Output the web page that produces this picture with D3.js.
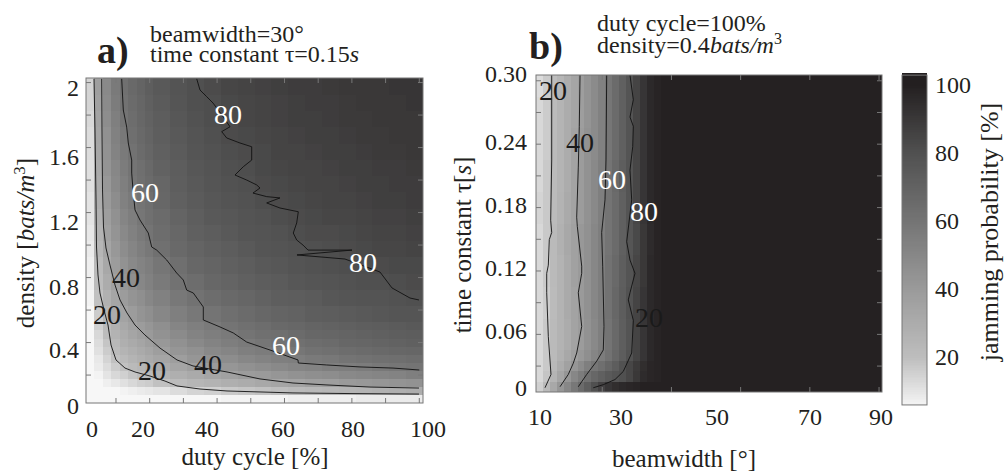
<!DOCTYPE html>
<html>
<head>
<meta charset="utf-8">
<script src="https://cdn.jsdelivr.net/npm/d3@7"></script>
<style>
  body { margin: 0; background: #fff; }
  svg text { fill: #231f20; }
</style>
</head>
<body>
<svg width="1006" height="476"></svg>
<script>
// ---------- panel a : duty cycle x density (beamwidth 30°, tau 0.15 s) ----------
// cell edges (fine cells at low duty / low density, merged cells elsewhere)
const dutyEdges = [1.25,3.75,6.25,8.75,11.25,13.75,16.25,18.75,21.25,26.25,31.25,36.25,41.25,
  46.25,51.25,56.25,61.25,66.25,71.25,76.25,81.25,86.25,91.25,96.25,101.25];
const densityEdges = [0.025,0.075,0.125,0.175,0.225,0.275,0.325,0.375,0.425,0.475,0.525,0.625,
  0.725,0.825,0.925,1.025,1.125,1.225,1.325,1.425,1.525,1.625,1.725,1.825,1.925,2.025];
// jamming probability [%], rows from low density to high density
const jamA = [
  [3,3,3,4,4,4,4,4,5,5,5,5,6,6,6,6,7,7,7,7,8,8,8,8],
  [4,4,4,5,6,7,8,9,10,12,14,15,17,18,19,20,22,23,24,25,26,27,28,29],
  [4,4,7,9,11,13,15,16,19,21,24,26,28,30,32,34,35,37,38,40,41,42,43,44],
  [4,6,10,13,15,18,20,22,25,28,31,34,36,39,40,42,44,46,47,49,50,51,52,54],
  [4,8,12,16,19,22,24,27,30,34,37,40,42,45,47,49,51,52,54,55,56,58,59,60],
  [4,9,14,19,22,25,28,31,34,38,42,45,47,50,52,54,55,57,58,60,61,62,63,64],
  [4,11,16,21,25,28,31,34,38,42,45,49,51,54,56,58,59,61,62,64,65,66,67,68],
  [4,12,18,23,28,31,34,37,41,45,49,52,55,57,59,61,62,64,65,67,68,69,70,71],
  [4,13,20,26,30,34,37,40,44,48,52,55,57,60,62,63,65,67,68,69,70,71,72,73],
  [4,15,22,27,32,36,39,42,46,51,54,57,60,62,64,66,67,69,70,71,72,73,74,75],
  [5,16,24,30,35,39,43,46,50,54,58,60,63,65,67,69,70,72,73,74,75,76,77,77],
  [6,19,27,33,39,43,46,50,53,58,61,64,66,68,70,72,73,74,76,77,78,78,79,80],
  [7,21,30,36,42,46,50,53,57,61,64,67,69,71,73,74,76,77,78,79,80,80,81,82],
  [7,22,32,39,44,49,52,55,59,63,67,69,71,73,75,76,78,79,80,81,81,82,83,83],
  [8,24,34,41,47,51,55,58,62,66,69,71,73,75,77,78,79,80,81,82,83,84,84,85],
  [9,26,36,43,49,53,57,60,64,67,71,73,75,77,78,79,81,82,82,83,84,85,85,86],
  [10,27,38,45,51,55,59,62,65,69,72,75,76,78,79,81,82,83,84,84,85,86,86,87],
  [10,29,40,47,53,57,60,63,67,71,74,76,78,79,81,82,83,84,85,85,86,87,87,88],
  [11,30,41,49,54,59,62,65,68,72,75,77,79,80,82,83,84,85,85,86,87,87,88,88],
  [11,31,43,50,56,60,63,66,70,73,76,78,80,81,83,84,85,85,86,87,87,88,88,89],
  [12,33,44,52,57,61,65,68,71,74,77,79,81,82,83,85,85,86,87,87,88,89,89,90],
  [12,34,45,53,58,63,66,69,72,75,78,80,82,83,84,85,86,87,87,88,89,89,90,90],
  [13,35,47,54,60,64,67,70,73,76,79,81,82,84,85,86,87,87,88,89,89,90,90,90],
  [14,36,48,56,61,65,68,71,74,77,80,81,83,84,85,86,87,88,88,89,90,90,90,91],
  [14,37,49,57,62,66,69,72,75,78,80,82,84,85,86,87,88,88,89,90,90,90,91,91]
];
// contour lines [duty, density]
const contA20 = [[3.62,2.02],[3.92,1.705],[4.22,1.274],[4.37,0.985],[4.81,0.813],[5.4,0.702],[6.59,0.597],
  [7.78,0.505],[8.67,0.382],[10.15,0.29],[12.82,0.24],[15.79,0.216],[20.24,0.191],[24.69,0.16],[28.25,0.13],
  [35.08,0.111],[43.09,0.099],[52.88,0.093],[62.67,0.087],[79.59,0.083],[100.06,0.08]];
const contA40 = [[5.91,2.02],[6.0,1.705],[6.15,1.336],[6.44,1.108],[7.18,0.979],[8.37,0.874],[9.86,0.751],
  [11.34,0.659],[13.42,0.579],[15.79,0.505],[18.76,0.443],[23.21,0.363],[28.25,0.29],[33.0,0.253],[38.05,0.234],
  [43.09,0.216],[52.88,0.173],[62.67,0.148],[72.76,0.136],[85.52,0.123],[100.06,0.117]];
const contA60 = [[11.84,2.02],[12.32,1.828],[13.33,1.723],[13.8,1.625],[14.81,1.52],[14.81,1.44],[15.2,1.336],
  [15.79,1.213],[17.27,1.151],[19.74,1.071],[20.75,0.985],[22.23,0.966],[25.2,0.905],[28.16,0.825],[30.12,0.782],
  [31.13,0.72],[33.09,0.702],[36.06,0.616],[36.06,0.536],[41.01,0.493],[44.96,0.456],[48.94,0.4],[55.85,0.351],
  [64.16,0.29],[64.25,0.271],[72.68,0.259],[82.56,0.247],[92.35,0.24],[100.15,0.228]];
const contA80 = [[34.1,2.02],[35.08,1.951],[37.07,1.91],[38.94,1.871],[41.61,1.797],[43.98,1.725],[41.52,1.695],
  [43.0,1.656],[46.95,1.625],[50.42,1.602],[50.42,1.52],[47.93,1.479],[45.46,1.428],[48.94,1.397],[51.9,1.367],
  [52.88,1.348],[50.8,1.317],[54.87,1.295],[58.82,1.287],[54.87,1.256],[58.82,1.225],[64.25,1.202],[63.77,1.133],
  [62.76,1.071],[63.77,1.028],[65.64,0.997],[67.13,0.966],[80.18,0.966],[63.86,0.936],[78.1,0.911],[88.49,0.831],
  [92.05,0.733],[97.39,0.671],[100.06,0.659]];
// contour labels [value, duty, density]
const labelsA = [[80,43.4,1.803],[60,18.76,1.323],[40,13.12,0.8],[20,7.48,0.573],
  [20,20.83,0.228],[40,37.45,0.265],[60,60.6,0.382],[80,83.45,0.893]];

// ---------- panel b : beamwidth x time constant (duty 100 %, density 0.4) ----------
const bwEdges = [9.18,10.82,12.45,14.08,15.71,17.35,18.98,20.61,22.24,23.88,25.51,27.14,28.78,
  30.41,32.04,33.67,35.31,36.94,38.57,90.82];
const tauEdges = [-0.0052,0.0052,0.0155,0.0259,0.0362,0.0672,0.0983,0.1293,0.1603,0.1914,0.2224,
  0.2534,0.2845,0.3052];
const jamB = [
  [15,22,32,42,50,58,65,72,80,86,91,94,96,97,98,99,99,99,99],
  [13,18,25,34,42,50,56,62,67,71,75,78,80,84,90,95,97,98,99],
  [13,17,23,30,36,42,48,54,59,63,68,73,79,84,89,94,97,98,99],
  [13,17,22,27,32,37,41,46,51,56,61,67,73,79,85,91,96,98,99],
  [13,17,22,26,30,35,39,44,49,54,60,66,72,78,85,91,96,98,99],
  [13,16,21,26,31,35,40,45,50,55,61,67,73,79,85,91,96,98,99],
  [13,17,22,26,31,36,40,45,50,55,61,66,72,78,84,90,96,98,99],
  [13,17,22,27,32,36,41,45,50,55,60,65,71,77,83,90,95,98,99],
  [14,17,21,26,31,35,39,44,49,54,60,65,71,78,84,91,96,98,99],
  [13,17,21,25,30,35,39,44,49,54,60,66,72,78,84,91,96,98,99],
  [13,16,21,25,30,35,39,44,48,53,59,65,71,78,85,91,96,98,99],
  [13,16,21,25,30,34,38,43,48,53,59,65,71,78,85,91,96,98,99],
  [12,16,20,24,29,34,38,43,48,53,59,65,71,78,85,91,96,98,99]
];
// contour lines [beamwidth, tau]
const contB20 = [[12.89,0.305],[12.89,0.222],[12.65,0.163],[12.89,0.151],[12.32,0.144],[12.09,0.119],
  [11.71,0.111],[11.71,0.092],[12.09,0.049],[12.72,0.012],[11.31,-0.001]];
const contB40 = [[19.57,0.305],[19.4,0.255],[19.16,0.215],[18.79,0.166],[18.93,0.157],[19.97,0.118],
  [19.97,0.111],[19.16,0.092],[19.97,0.059],[18.79,0.033],[17.98,0.023],[16.8,0.012],[14.85,0.0]];
const contB60 = [[25.86,0.305],[25.7,0.222],[25.46,0.183],[24.68,0.151],[24.92,0.118],[25.23,0.059],
  [25.06,0.036],[23.5,0.025],[21.14,0.012],[19.16,0.0]];
const contB80 = [[31.36,0.305],[32.14,0.281],[31.36,0.264],[32.14,0.255],[32.0,0.235],[31.36,0.212],
  [31.76,0.183],[30.58,0.142],[31.36,0.124],[32.54,0.111],[31.36,0.092],[30.96,0.085],[32.14,0.065],
  [31.76,0.033],[29.78,0.015],[27.82,0.007],[25.06,0.002],[22.7,-0.001]];
const labelsB = [[20,13.2,0.2905],[40,19.57,0.2396],[60,27.12,0.2033],[80,34.67,0.172],[20,35.85,0.0682]];

// tick labels
const aXLabels = [0,20,40,60,80,100];
const aYLabels = [0,0.4,0.8,1.2,1.6,2];
const bXLabels = [10,30,50,70,90];
const bYLabels = [0,0.06,0.12,0.18,0.24,0.30];
const cbLabels = [20,40,60,80,100];

const SERIF = "'Liberation Serif', 'Times New Roman', Tinos, 'Nimbus Roman', FreeSerif, 'DejaVu Serif', serif";

const svg = d3.select('svg');

const color = d3.scaleLinear()
  .domain([5,20,40,60,80,100])
  .range(['#f7f7f7','#bdbdbd','#9a9a9a','#747474','#505050','#231f20'])
  .clamp(true);

function panel(id, x, y, edgesX, edgesY, grid, contours, labels, xTicks, yTicks) {
  const g = svg.append('g');
  const [x0, x1] = x.range();
  const [y0, y1] = y.range();
  g.append('clipPath').attr('id', id).append('rect')
    .attr('x', x0).attr('y', y1).attr('width', x1 - x0).attr('height', y0 - y1);

  const cells = [];
  grid.forEach((row, j) => row.forEach((v, i) => cells.push({i, j, v})));
  g.append('g').attr('clip-path', `url(#${id})`)
    .selectAll('rect').data(cells).join('rect')
      .attr('x', d => x(edgesX[d.i]))
      .attr('y', d => y(edgesY[d.j + 1]))
      .attr('width', d => x(edgesX[d.i + 1]) - x(edgesX[d.i]) + 0.6)
      .attr('height', d => y(edgesY[d.j]) - y(edgesY[d.j + 1]) + 0.6)
      .attr('fill', d => color(d.v))
      .attr('shape-rendering', 'crispEdges');

  const line = d3.line().x(d => x(d[0])).y(d => y(d[1]));
  g.append('g').attr('clip-path', `url(#${id})`)
    .selectAll('path').data(contours).join('path')
      .attr('d', line)
      .attr('fill', 'none')
      .attr('stroke', '#111')
      .attr('stroke-width', 0.9);

  const tick = (axis, tr) => g.append('g').attr('transform', tr).call(axis)
    .call(a => { a.select('.domain').remove(); a.selectAll('line').attr('stroke', '#777'); });
  tick(d3.axisBottom(x).tickValues(xTicks).tickSize(-5).tickFormat(''), `translate(0,${y0})`);
  tick(d3.axisTop(x).tickValues(xTicks).tickSize(-5).tickFormat(''), `translate(0,${y1})`);
  tick(d3.axisLeft(y).tickValues(yTicks).tickSize(-5).tickFormat(''), `translate(${x0},0)`);
  tick(d3.axisRight(y).tickValues(yTicks).tickSize(-5).tickFormat(''), `translate(${x1},0)`);

  g.append('rect').attr('x', x0).attr('y', y1).attr('width', x1 - x0).attr('height', y0 - y1)
    .attr('fill', 'none').attr('stroke', '#777');

  g.selectAll('text.cl').data(labels).join('text')
    .attr('class', 'cl')
    .attr('x', d => x(d[1])).attr('y', d => y(d[2])).attr('dy', '0.35em')
    .attr('text-anchor', 'middle')
    .attr('font-family', SERIF).attr('font-size', 28)
    .style('fill', d => d[0] >= 60 ? '#fff' : '#1a1a1a')
    .text(d => d[0]);
  return g;
}

// panel a
const xA = d3.scaleLinear().domain([1.25, 101.25]).range([86, 423]);
const yA = d3.scaleLinear().domain([0.025, 2.025]).range([403, 78]);
panel('clipA', xA, yA, dutyEdges, densityEdges, jamA, [contA20, contA40, contA60, contA80], labelsA,
  d3.range(10, 101, 10), d3.range(1, 11).map(k => k * 0.2));

// panel b (50 beamwidth samples from 10 to 90, 30 tau samples from 0 to 0.3)
const xB = d3.scaleLinear().domain([9.184, 90.816]).range([536, 882]);
const yB = d3.scaleLinear().domain([-0.00517, 0.30517]).range([392, 75]);
panel('clipB', xB, yB, bwEdges, tauEdges, jamB, [contB20, contB40, contB60, contB80], labelsB,
  d3.range(10, 51, 10).map(i => 10 + (i - 1) * 80 / 49), d3.range(3, 31, 3).map(j => (j - 1) * 0.3 / 29));

// tick labels (hand placed in the original figure)
const labAx = d3.scaleLinear().domain(aXLabels).range([92, 143, 207, 283, 353, 428]);
const labAy = d3.scaleLinear().domain(aYLabels).range([406, 350, 287, 222, 157, 88]);
const labBx = d3.scaleLinear().domain(bXLabels).range([540, 621, 717, 810, 881]);
const labBy = d3.scaleLinear().domain(bYLabels).range([388, 331, 268, 205, 142, 74]);

const tickText = (data, xf, yf, anchor, fmt) => svg.append('g').selectAll('text').data(data).join('text')
  .attr('x', xf).attr('y', yf).attr('text-anchor', anchor)
  .attr('font-family', SERIF).attr('font-size', 24).text(fmt);

tickText(aXLabels, d => labAx(d), 437, 'middle', d => d);
tickText(aYLabels, 79, d => labAy(d) + 8, 'end', d => d);
tickText(bXLabels, d => labBx(d), 425, 'middle', d => d);
tickText(bYLabels, 527, d => labBy(d) + 8, 'end', d => d === 0 ? '0' : d.toFixed(2));

// colorbar
const cb = d3.scaleLinear().domain([0, 100]).range([425, 85]);
const cbSteps = d3.range(5.9, 103, 0.5);
svg.append('g').selectAll('rect').data(cbSteps).join('rect')
  .attr('x', 902).attr('width', 25)
  .attr('y', d => cb(d + 0.5)).attr('height', d => cb(d) - cb(d + 0.5) + 0.5)
  .attr('fill', d => color(d)).attr('shape-rendering', 'crispEdges');
svg.append('rect').attr('x', 902).attr('y', cb(102.9)).attr('width', 25).attr('height', cb(5.9) - cb(102.9))
  .attr('fill', 'none').attr('stroke', '#777');
tickText(cbLabels, 935, d => cb(d) + 8, 'start', d => d);

// axis titles
const title = (tr, size, anchor) => svg.append('text').attr('transform', tr)
  .attr('text-anchor', anchor).attr('font-family', SERIF).attr('font-size', size);

title('translate(255,465)', 25, 'middle').text('duty cycle [%]');
title('translate(684,467)', 25, 'middle').text('beamwidth [°]');

const dens = title('translate(34,243) rotate(-90)', 25, 'middle');
dens.append('tspan').text('density [');
dens.append('tspan').attr('font-style', 'italic').text('bats/m');
dens.append('tspan').attr('dy', -9).attr('font-size', 17).text('3');
dens.append('tspan').attr('dy', 9).text(']');

const tc = title('translate(471,245) rotate(-90)', 25, 'middle');
tc.append('tspan').text('time constant τ[');
tc.append('tspan').attr('font-style', 'italic').text('s');
tc.append('tspan').text(']');

title('translate(998,232) rotate(-90)', 26, 'middle').text('jamming probability [%]');

// panel titles: bold letter plus a two-line caption in one text block
title('translate(97,63)', 38, 'start').attr('font-weight', 'bold').text('a)');
const capA = title('translate(150,42)', 24, 'start');
capA.append('tspan').attr('x', 0).text('beamwidth=30°');
capA.append('tspan').attr('x', 0).attr('dy', 20).text('time constant τ=0.15');
capA.append('tspan').attr('font-style', 'italic').text('s');

title('translate(529,59)', 38, 'start').attr('font-weight', 'bold').text('b)');
const capB = title('translate(597,31)', 24, 'start');
capB.append('tspan').attr('x', 0).text('duty cycle=100%');
capB.append('tspan').attr('x', 0).attr('dy', 22).text('density=0.4');
capB.append('tspan').attr('font-style', 'italic').text('bats/m');
capB.append('tspan').attr('dy', -9).attr('font-size', 16).text('3');
</script>
</body>
</html>
